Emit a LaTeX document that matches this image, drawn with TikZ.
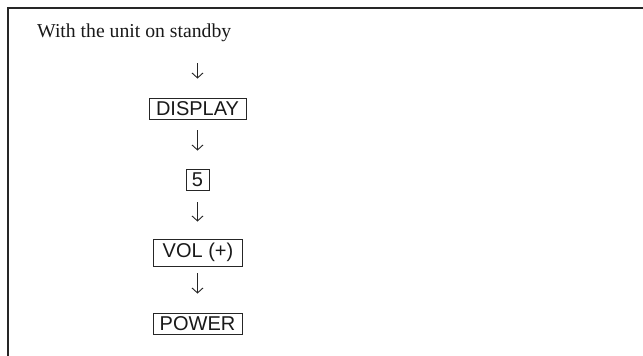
\documentclass[tikz,border=0pt]{standalone}
\usepackage{fontspec}
\setmainfont{Liberation Serif}
\newfontfamily\keyfont{Liberation Sans}
\usetikzlibrary{arrows.meta,calc}
\begin{document}
\begin{tikzpicture}[x=1pt,y=-1pt,
  keybox/.style={draw=black!85, line width=0.9pt, inner sep=0pt, text=black!90,
    font=\keyfont\fontsize{20}{24}\selectfont},
  flowarr/.style={draw=black!85, line width=0.9pt, -{Straight Barb[length=5pt,width=11pt,line width=0.9pt]}},
  frame/.style={draw=black!85, line width=1.4pt}]
\useasboundingbox (0,0) rectangle (643,356);
\coordinate (fbl) at (8,357);
\coordinate (ftl) at (8,8);
\coordinate (ftr) at (644,8);
\draw[frame] (fbl) -- (ftl) -- (ftr);
\node[anchor=base west, inner sep=0pt, text=black!90,
  font=\fontsize{19.7}{24}\selectfont] (title) at (37,37) {With the unit on standby};
\node[keybox, minimum width=97pt, minimum height=21pt] (disp) at (197.5,108.5) {DISPLAY};
\node[keybox, minimum width=23pt, minimum height=21pt] (five) at (197.5,179.5) {5};
\node[keybox, minimum width=89pt, minimum height=27pt] (vol) at (198,252.5) {VOL (+)};
\node[keybox, minimum width=89pt, minimum height=21pt] (power) at (197.5,323.5) {POWER};
\draw[flowarr, shorten <=21.7pt, shorten >=19pt] (title.south -| disp.north) -- (disp.north);
\draw[flowarr, shorten <=11pt, shorten >=18pt] (disp.south) -- (five.north);
\draw[flowarr, shorten <=12pt, shorten >=17pt] (five.south) -- (five.south |- vol.north);
\draw[flowarr, shorten <=7pt, shorten >=19pt] (vol.south -| five.south) -- (five.south |- power.north);
\end{tikzpicture}
\end{document}
